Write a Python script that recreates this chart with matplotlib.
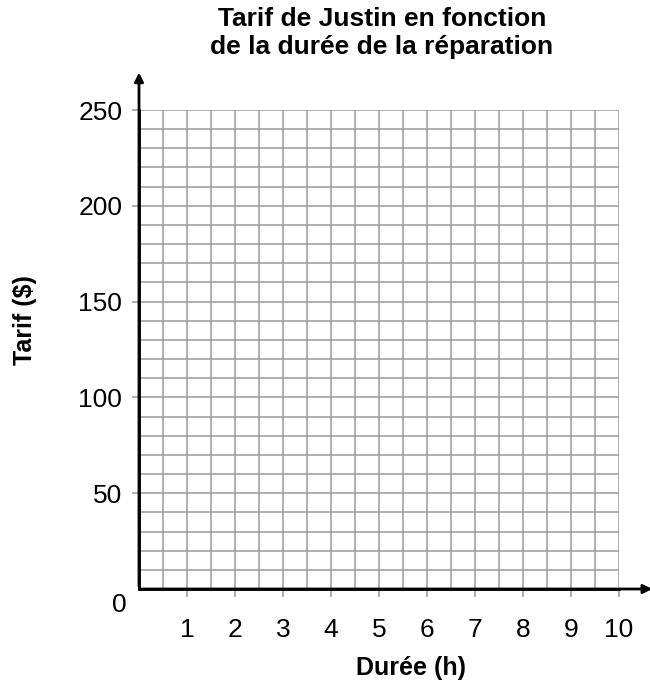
import matplotlib
matplotlib.use("Agg")
import matplotlib.pyplot as plt
import numpy as np

plt.rcParams['font.family'] = ['Liberation Sans', 'DejaVu Sans']

title = "Tarif de Justin en fonction\nde la durée de la réparation"
x_label = "Durée (h)"
y_label = "Tarif ($)"
x_ticks = [1, 2, 3, 4, 5, 6, 7, 8, 9, 10]
y_ticks = [50, 100, 150, 200, 250]
x_max = 10
y_max = 250
x_grid_step = 0.5
y_grid_step = 10

fig = plt.figure(figsize=(6.5, 6.87), dpi=100)
ax = fig.add_axes([139/650, 98/687, 480/650, 479/687])
ax.set_xlim(0, x_max)
ax.set_ylim(0, y_max)

grid_col = '#9a9a9a'
for gx in np.arange(x_grid_step, x_max + 1e-9, x_grid_step):
    ax.axvline(gx, color=grid_col, lw=1.1, zorder=1)
for gy in np.arange(y_grid_step, y_max + 1e-9, y_grid_step):
    ax.axhline(gy, color=grid_col, lw=1.1, zorder=1)

for s in ['top', 'right']:
    ax.spines[s].set_visible(False)
for s in ['left', 'bottom']:
    ax.spines[s].set_linewidth(2)
    ax.spines[s].set_zorder(3)

ax.set_xticks(x_ticks)
ax.set_yticks(y_ticks)
ax.tick_params(axis='x', length=5.8, width=1.1, color=grid_col, pad=15, labelsize=19)
ax.tick_params(axis='y', length=5, width=1.1, color=grid_col, pad=7, labelsize=19)

# arrows
ax.annotate('', xy=(0, 271), xytext=(0, 0), xycoords='data',
            arrowprops=dict(arrowstyle='-|>', lw=2, color='black', mutation_scale=13),
            annotation_clip=False, zorder=4)
ax.annotate('', xy=(10.75, 0), xytext=(0, 0), xycoords='data',
            arrowprops=dict(arrowstyle='-|>', lw=2, color='black', mutation_scale=13),
            annotation_clip=False, zorder=4)

ax.text(-0.4, -8.5, "0", fontsize=19, ha='center', va='center')

fig.text(382/650, 1 - 33/687, title, fontsize=19, fontweight='bold', ha='center', va='center', linespacing=1.22)
fig.text(411/650, 1 - 668/687, x_label, fontsize=18, fontweight='bold', ha='center', va='center')
fig.text(25/650, 1 - 320/687, y_label, fontsize=18, fontweight='bold', ha='center', va='center', rotation=90)

fig.savefig("out.png", dpi=100)
